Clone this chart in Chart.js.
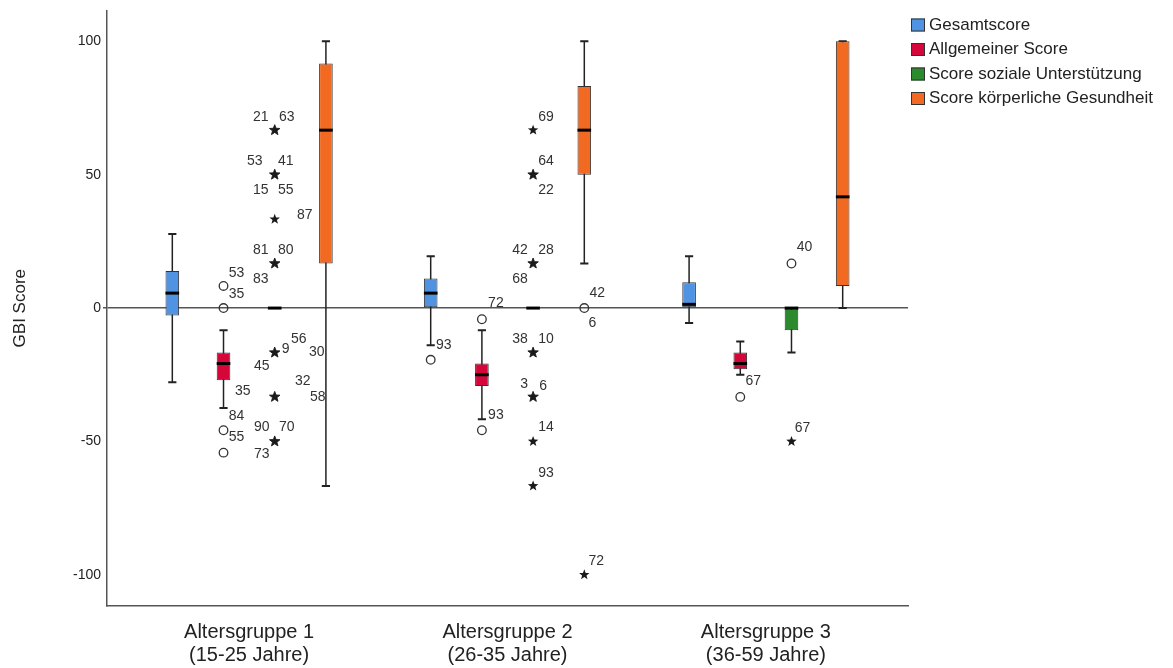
<!DOCTYPE html>
<html>
<head>
<meta charset="utf-8">
<script src="https://cdn.jsdelivr.net/npm/chart.js@4.4.0/dist/chart.umd.min.js"></script>
<style>
  html, body { margin: 0; padding: 0; background: #ffffff; }
  #wrap { width: 1173px; height: 668px; }
</style>
</head>
<body>
<div id="wrap"><canvas id="chart" width="1173" height="668"></canvas></div>
<script>
// Age groups on the x axis
const groupLabels = [
  ['Altersgruppe 1', '(15-25 Jahre)'],
  ['Altersgruppe 2', '(26-35 Jahre)'],
  ['Altersgruppe 3', '(36-59 Jahre)']
];
const groupPositions = [1, 2, 3];

const seriesNames = [
  'Gesamtscore',
  'Allgemeiner Score',
  'Score soziale Unterstützung',
  'Score körperliche Gesundheit'
];

// Five-number summaries per age group: [lower whisker, Q1, median, Q3, upper whisker]
const gesamtscore            = [[-27.8, -2.8, 5.6, 13.9, 27.8], [-13.9, 0, 5.6, 11.1, 19.4], [-5.6, 0, 1.4, 9.7, 19.4]];
const allgemeinerScore       = [[-37.5, -27.1, -20.8, -16.7, -8.3], [-41.7, -29.2, -25, -20.8, -8.3], [-25, -22.9, -20.8, -16.7, -12.5]];
const sozialeUnterstuetzung  = [[0, 0, 0, 0, 0], [0, 0, 0, 0, 0], [-16.7, -8.3, 0, 0, 0]];
const koerperlicheGesundheit = [[-66.7, 16.7, 66.7, 91.7, 100], [16.7, 50, 66.7, 83.3, 100], [0, 8.3, 41.7, 100, 100]];

// Outliers (circles): [group index, series index, value, case numbers]
const outliers = [
  [0, 1, 8.3, ['53']],
  [0, 1, 0, ['35']],
  [0, 1, -45.8, ['84']],
  [0, 1, -54.2, ['55']],
  [1, 0, -19.4, ['93']],
  [1, 1, -4.2, ['72']],
  [1, 1, -45.8, ['93']],
  [1, 3, 0, ['42', '6']],
  [2, 1, -33.3, ['67']],
  [2, 2, 16.7, ['40']]
];

// Extreme values (stars): [group index, series index, value, case numbers]
const extremes = [
  [0, 2, 66.7, ['21', '63']],
  [0, 2, 50, ['53', '41', '15', '55']],
  [0, 2, 33.3, ['87']],
  [0, 2, 16.7, ['81', '80', '83']],
  [0, 2, -16.7, ['9', '56', '30', '45']],
  [0, 2, -33.3, ['32', '58', '35']],
  [0, 2, -50, ['90', '70', '73']],
  [1, 2, 66.7, ['69']],
  [1, 2, 50, ['64', '22']],
  [1, 2, 16.7, ['42', '28', '68']],
  [1, 2, -16.7, ['38', '10']],
  [1, 2, -33.3, ['3', '6']],
  [1, 2, -50, ['14']],
  [1, 2, -66.7, ['93']],
  [1, 3, -100, ['72']],
  [2, 2, -50, ['67']]
];

const yTicks = [-100, -50, 0, 50, 100];

// Where each case number sits around its marker (pixels, same order as above)
const outlierLabelOffsets = [
  [[13, -13]], [[13, -14]], [[13, -14]], [[13, -15]], [[13, -15]],
  [[14, -16]], [[14, -15]], [[13, -15], [8, 15]], [[13, -16]], [[13, -16]]
];
const extremeLabelOffsets = [
  [[-14, -13], [12, -13]],
  [[-20, -14], [11, -14], [-14, 15], [11, 15]],
  [[30, -4]],
  [[-14, -13], [11, -13], [-14, 16]],
  [[11, -3], [24, -13], [42, 0], [-13, 14]],
  [[28, -16], [43, 0], [-32, -6]],
  [[-13, -14], [12, -14], [-13, 13]],
  [[13, -13]],
  [[13, -14], [13, 15]],
  [[-13, -13], [13, -13], [-13, 16]],
  [[-13, -13], [13, -13]],
  [[-9, -13], [10, -11]],
  [[13, -14]],
  [[13, -13]],
  [[12, -14]],
  [[11, -13]]
];

const seriesColors = ['#4F93E2', '#D5073A', '#2B8A2E', '#F26A22'];
const allSeries = [gesamtscore, allgemeinerScore, sozialeUnterstuetzung, koerperlicheGesundheit];
const FONT = "'Liberation Sans', Arial, sans-serif";

Chart.defaults.font.family = FONT;
Chart.defaults.color = '#333';

function drawStar(ctx, x, y, r, bold) {
  ctx.beginPath();
  for (let i = 0; i < 10; i++) {
    const rad = i % 2 === 0 ? r : r * 0.42;
    const a = -Math.PI / 2 + i * Math.PI / 5;
    const px = x + rad * Math.cos(a), py = y + rad * Math.sin(a);
    if (i === 0) ctx.moveTo(px, py); else ctx.lineTo(px, py);
  }
  ctx.closePath();
  ctx.fillStyle = '#1a1a1a';
  ctx.fill();
  if (bold) { ctx.lineWidth = 0.9; ctx.strokeStyle = '#1a1a1a'; ctx.stroke(); }
}

const boxPlotParts = {
  id: 'boxPlotParts',
  beforeDatasetsDraw(chart) {
    const ctx = chart.ctx, y = chart.scales.y;
    ctx.save();
    ctx.strokeStyle = '#222';
    allSeries.forEach((series, k) => {
      const meta = chart.getDatasetMeta(k);
      series.forEach((row, g) => {
        const el = meta.data[g];
        const x = el.x, capHalf = el.width * 0.3;
        const yLow = y.getPixelForValue(row[0]), yHigh = y.getPixelForValue(row[4]);
        ctx.lineWidth = 1.5;
        ctx.beginPath();
        ctx.moveTo(x, yLow); ctx.lineTo(x, yHigh);
        ctx.stroke();
        ctx.lineWidth = 2;
        ctx.beginPath();
        ctx.moveTo(x - capHalf, yLow); ctx.lineTo(x + capHalf, yLow);
        ctx.moveTo(x - capHalf, yHigh); ctx.lineTo(x + capHalf, yHigh);
        ctx.stroke();
      });
    });
    ctx.restore();
  },
  afterDatasetsDraw(chart) {
    const ctx = chart.ctx, y = chart.scales.y;
    ctx.save();
    // medians
    allSeries.forEach((series, k) => {
      const meta = chart.getDatasetMeta(k);
      series.forEach((row, g) => {
        const el = meta.data[g];
        const ym = y.getPixelForValue(row[2]);
        ctx.strokeStyle = '#000';
        ctx.lineWidth = 3;
        ctx.beginPath();
        ctx.moveTo(el.x - el.width / 2, ym);
        ctx.lineTo(el.x + el.width / 2, ym);
        ctx.stroke();
      });
    });
    const labelFont = '14px ' + FONT;
    const drawLabels = (x, yp, ids, offsets) => {
      ctx.font = labelFont;
      ctx.fillStyle = '#333';
      ctx.textAlign = 'center';
      ctx.textBaseline = 'middle';
      ids.forEach((id, i) => {
        const o = offsets[i] || [13, -14];
        ctx.fillText(id, x + o[0], yp + o[1]);
      });
    };
    outliers.forEach((o, i) => {
      const el = chart.getDatasetMeta(o[1]).data[o[0]];
      const yp = y.getPixelForValue(o[2]);
      ctx.beginPath();
      ctx.arc(el.x, yp, 4.3, 0, Math.PI * 2);
      ctx.lineWidth = 1.3;
      ctx.strokeStyle = '#333';
      ctx.stroke();
      drawLabels(el.x, yp, o[3], outlierLabelOffsets[i]);
    });
    extremes.forEach((e, i) => {
      const el = chart.getDatasetMeta(e[1]).data[e[0]];
      const yp = y.getPixelForValue(e[2]);
      drawStar(ctx, el.x, yp, 5.5, e[3].length > 1);
      drawLabels(el.x, yp, e[3], extremeLabelOffsets[i]);
    });
    ctx.restore();
  },
  afterDraw(chart) {
    // legend block to the right of the plot
    const ctx = chart.ctx;
    ctx.save();
    ctx.font = '17px ' + FONT;
    ctx.textAlign = 'left';
    ctx.textBaseline = 'middle';
    chart.data.datasets.forEach((ds, i) => {
      const cy = 25 + i * 24.5;
      ctx.fillStyle = ds.backgroundColor;
      ctx.fillRect(911, cy - 6.5, 14, 13);
      ctx.strokeStyle = '#333';
      ctx.lineWidth = 1;
      ctx.strokeRect(911.5, cy - 6, 13, 12);
      ctx.fillStyle = '#222';
      ctx.fillText(ds.label, 929, cy);
    });
    ctx.restore();
  }
};

const datasets = allSeries.map((series, k) => ({
  label: seriesNames[k],
  data: series.map((row, g) => ({ x: groupPositions[g], y: [row[1], row[3]] })),
  backgroundColor: seriesColors[k],
  borderColor: '#333',
  borderWidth: 1,
  borderSkipped: false,
  categoryPercentage: 0.7926,
  barPercentage: 0.266
}));

new Chart(document.getElementById('chart'), {
  type: 'bar',
  data: { datasets },
  plugins: [boxPlotParts],
  options: {
    responsive: false,
    animation: false,
    layout: { padding: { top: 10, right: 265, bottom: 0, left: 0 } },
    plugins: { legend: { display: false }, tooltip: { enabled: false } },
    scales: {
      x: {
        type: 'linear',
        min: 0.45,
        max: 3.55,
        offset: false,
        afterBuildTicks(scale) { scale.ticks = groupPositions.map(v => ({ value: v })); },
        afterFit(scale) { scale.height = 62; },
        grid: { display: false, offset: false },
        border: { display: true, color: '#555', width: 1.5 },
        ticks: {
          autoSkip: false,
          maxRotation: 0,
          padding: 7,
          color: '#222',
          font: { size: 20, lineHeight: 1.15 },
          callback: (v) => groupLabels[groupPositions.indexOf(v)]
        }
      },
      y: {
        min: -111.7,
        max: 111.6,
        afterBuildTicks(scale) { scale.ticks = yTicks.map(v => ({ value: v })); },
        afterFit(scale) { scale.width = 107; },
        grid: {
          drawOnChartArea: true,
          color: (c) => (c.tick && c.tick.value === 0 ? '#555' : 'rgba(0,0,0,0)'),
          lineWidth: 1.5,
          drawTicks: true,
          tickLength: 4,
          tickColor: (c) => (c.tick && c.tick.value === 0 ? '#555' : 'rgba(0,0,0,0)')
        },
        border: { display: true, color: '#555', width: 1.5 },
        ticks: { padding: 2, color: '#222', font: { size: 14 } },
        title: {
          display: true,
          text: 'GBI Score',
          color: '#222',
          font: { size: 17 },
          padding: { top: 10, bottom: 0 }
        }
      }
    }
  }
});
</script>
</body>
</html>
